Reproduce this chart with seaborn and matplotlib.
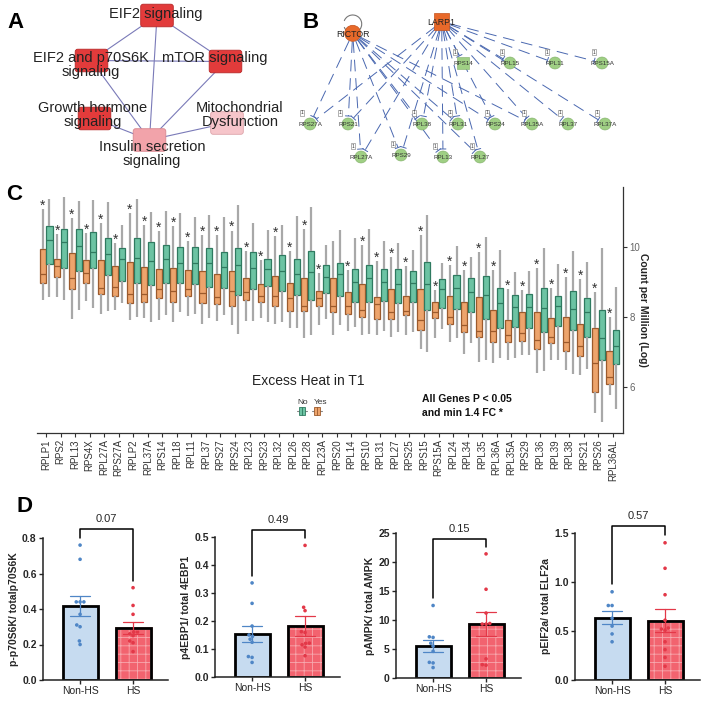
import numpy as np
import pandas as pd
import matplotlib
matplotlib.use("Agg")
import matplotlib.pyplot as plt
import seaborn as sns
from matplotlib.patches import FancyBboxPatch, Rectangle, Circle, Arc

# ===================== DATA =====================
# Panel A: canonical pathway network
pathways = ["EIF2 signaling", "EIF2 and p70S6K\nsignaling", "mTOR signaling",
            "Growth hormone\nsignaling", "Mitochondrial\nDysfunction",
            "Insulin secretion\nsignaling"]
pathway_level = ["high", "high", "high", "high", "low", "mid"]
pathway_links = [(0, 1), (0, 2), (0, 5), (1, 2), (1, 5), (2, 5), (3, 5), (4, 5)]

# Panel B: upstream regulators and ribosomal targets
regulators = ["RICTOR", "LARP1"]
targets = ["RPS14", "RPL15", "RPL11", "RPS15A",
           "RPS27A", "RPS21", "RPL38", "RPL31", "RPS24", "RPL35A", "RPL37", "RPL37A",
           "RPL27A", "RPS29", "RPL13", "RPL27"]
rictor_targets = ["RPS27A", "RPS21", "RPL38", "RPL31", "RPS24", "RPL35A",
                  "RPL27A", "RPS29", "RPL13", "RPL27"]

# Panel C: box statistics (log CPM) per gene, Yes = excess heat, No = none
genes = ["RPLP1", "RPS2", "RPL13", "RPS4X", "RPL27A", "RPS27A", "RPLP2", "RPL37A",
         "RPS14", "RPL18", "RPL11", "RPL37", "RPS27", "RPS24", "RPL23", "RPS23",
         "RPL32", "RPL26", "RPL28", "RPL23A", "RPS20", "RPL14", "RPS10", "RPL31",
         "RPL27", "RPS25", "RPS15", "RPS15A", "RPL24", "RPL34", "RPL35", "RPL36A",
         "RPL35A", "RPS29", "RPL36", "RPL39", "RPL38", "RPS21", "RPS26", "RPL36AL"]
yes_min = [8.49, 8.58, 7.93, 8.46, 8.10, 8.20, 7.91, 7.98, 7.91, 7.87, 8.04, 7.79, 7.89, 7.77,
           7.89, 7.98, 7.80, 7.70, 7.39, 7.77, 7.49, 7.60, 7.50, 7.49, 7.44, 7.49, 7.10, 7.39,
           7.30, 6.96, 6.72, 6.68, 6.79, 6.93, 6.42, 6.77, 6.49, 6.34, 5.28, 5.77]
yes_q1 = [8.98, 9.13, 8.79, 8.96, 8.65, 8.61, 8.39, 8.44, 8.53, 8.44, 8.61, 8.39, 8.37, 8.30,
          8.48, 8.42, 8.31, 8.17, 8.17, 8.31, 8.15, 8.10, 8.01, 7.93, 7.94, 8.06, 7.63, 7.96,
          7.80, 7.58, 7.42, 7.30, 7.28, 7.31, 7.09, 7.25, 7.04, 6.89, 5.87, 6.10]
yes_med = [9.22, 9.46, 9.10, 9.25, 8.82, 8.85, 8.66, 8.65, 8.80, 8.73, 8.79, 8.68, 8.58, 8.73,
           8.70, 8.61, 8.60, 8.55, 8.31, 8.55, 8.31, 8.31, 8.20, 8.36, 8.13, 8.18, 7.91, 8.13,
           8.01, 7.77, 7.61, 7.61, 7.49, 7.54, 7.34, 7.44, 7.28, 7.18, 6.70, 6.30]
yes_q3 = [9.94, 9.65, 9.82, 9.62, 9.62, 9.46, 9.56, 9.43, 9.36, 9.39, 9.33, 9.30, 9.22, 9.30,
          9.10, 8.93, 9.17, 8.96, 9.12, 8.74, 9.10, 8.72, 8.94, 8.57, 8.79, 8.61, 8.79, 8.44,
          8.61, 8.44, 8.57, 8.20, 7.91, 8.13, 8.15, 7.96, 7.99, 7.80, 7.70, 7.03]
yes_max = [11.06, 10.36, 10.82, 10.39, 10.68, 10.10, 10.96, 10.63, 10.44, 10.58, 10.17, 10.34,
           10.34, 10.46, 9.89, 9.63, 10.30, 9.89, 10.50, 9.25, 10.15, 9.34, 10.06, 9.60, 9.72,
           9.44, 10.34, 8.77, 9.49, 9.34, 9.85, 9.34, 8.79, 8.77, 9.39, 8.82, 9.15, 9.09, 8.72, 8.01]
no_min = [8.58, 8.48, 8.20, 8.27, 8.18, 8.41, 8.01, 7.87, 8.06, 8.15, 8.10, 7.96, 8.06, 7.53,
          7.89, 7.87, 7.87, 7.68, 7.50, 7.93, 7.77, 7.72, 7.53, 7.60, 7.58, 7.58, 7.01, 7.65,
          7.39, 7.25, 6.77, 6.84, 6.84, 6.93, 6.46, 6.79, 6.39, 6.53, 5.01, 5.39]
no_q1 = [9.50, 9.39, 9.30, 9.39, 9.19, 9.03, 8.96, 8.91, 8.96, 8.98, 8.93, 8.85, 8.82, 8.63,
         8.80, 8.87, 8.74, 8.63, 8.49, 8.68, 8.61, 8.44, 8.44, 8.47, 8.41, 8.42, 8.20, 8.25,
         8.22, 8.15, 7.93, 7.70, 7.72, 7.70, 7.58, 7.74, 7.63, 7.42, 6.77, 6.65]
no_med = [10.20, 10.13, 10.01, 9.85, 9.80, 9.65, 9.68, 9.60, 9.65, 9.53, 9.53, 9.53, 9.41, 9.49,
          9.39, 9.36, 9.31, 9.23, 9.28, 9.13, 9.23, 8.99, 9.12, 8.99, 8.94, 8.96, 8.94, 8.79,
          8.82, 8.70, 8.63, 8.39, 8.28, 8.28, 8.25, 8.30, 8.22, 8.13, 7.39, 7.17]
no_q3 = [10.58, 10.50, 10.50, 10.42, 10.25, 9.96, 10.25, 10.13, 10.04, 9.99, 9.99, 9.96, 9.85,
         9.96, 9.84, 9.66, 9.76, 9.65, 9.87, 9.47, 9.53, 9.37, 9.49, 9.37, 9.36, 9.30, 9.58, 9.09,
         9.20, 9.12, 9.17, 8.84, 8.63, 8.66, 8.84, 8.60, 8.74, 8.53, 8.20, 7.63]
no_max = [11.37, 11.41, 11.31, 11.32, 11.27, 10.61, 11.37, 10.98, 11.01, 10.96, 10.84, 10.90,
          10.84, 11.18, 10.68, 10.49, 10.63, 10.87, 11.13, 10.06, 10.49, 10.25, 10.50, 10.15,
          10.10, 9.91, 10.91, 9.53, 10.01, 9.72, 10.27, 9.91, 9.28, 9.30, 9.96, 9.50, 9.89, 9.56,
          9.96, 8.85]
significant = [g != "RPS20" for g in genes]
yticks_c = [6, 8, 10]

# Panel D: western blot ratios
d_groups = ["Non-HS", "HS"]
d_ylabels = ["p-p70S6K/ totalp70S6K", "p4EBP1/ total 4EBP1", "pAMPK/ total AMPK",
             "pEIF2a/ total ELF2a"]
d_pvalues = ["0.07", "0.49", "0.15", "0.57"]
p70_non = [0.76, 0.68, 0.44, 0.44, 0.44, 0.37, 0.30, 0.31, 0.22, 0.20]
p70_hs = [0.52, 0.42, 0.37, 0.27, 0.27, 0.26, 0.25, 0.22, 0.21, 0.16]
ebp_non = [0.336, 0.263, 0.182, 0.150, 0.145, 0.135, 0.124, 0.073, 0.070, 0.052]
ebp_hs = [0.470, 0.249, 0.237, 0.162, 0.159, 0.121, 0.120, 0.115, 0.107, 0.076]
ampk_non = [12.5, 7.1, 7.0, 6.0, 5.5, 4.6, 2.7, 2.6, 1.8]
ampk_hs = [21.4, 15.3, 11.2, 9.4, 9.3, 9.3, 3.3, 2.2, 2.3]
eif_non = [0.90, 0.76, 0.76, 0.63, 0.55, 0.47, 0.39]
eif_hs = [1.40, 1.14, 0.87, 0.61, 0.53, 0.52, 0.51, 0.39, 0.31, 0.23, 0.14]
d_yticks = [[0.0, 0.2, 0.4, 0.6, 0.8], [0.0, 0.1, 0.2, 0.3, 0.4, 0.5],
            [0, 5, 10, 15, 20, 25], [0.0, 0.5, 1.0, 1.5]]

# ===================== LAYOUT / STYLE =====================
sns.set_theme(style="white")
plt.rcParams['font.family'] = ['Liberation Sans', 'DejaVu Sans']
plt.rcParams['hatch.linewidth'] = 0.6

W, H = 709, 701
fig = plt.figure(figsize=(W / 100, H / 100), dpi=100)


def rect(l, t, r, b):
    return [l / W, 1 - b / H, (r - l) / W, (b - t) / H]


GREEN, GREEN_EDGE = "#6cc3a3", "#2f7a60"
ORANGE, ORANGE_EDGE = "#eda46c", "#9c5a2c"

# ---------------- Panel C ----------------
axc = fig.add_axes(rect(37, 187, 623, 433))
axc.patch.set_alpha(0)
rows = []
for i, g in enumerate(genes):
    for v in (yes_min[i], yes_q1[i], yes_med[i], yes_q3[i], yes_max[i]):
        rows.append((g, "Yes", v))
    for v in (no_min[i], no_q1[i], no_med[i], no_q3[i], no_max[i]):
        rows.append((g, "No", v))
dfc = pd.DataFrame(rows, columns=["gene", "heat", "cpm"])
sns.boxplot(data=dfc, x="gene", y="cpm", hue="heat", hue_order=["Yes", "No"], order=genes,
            palette={"Yes": ORANGE, "No": GREEN}, saturation=1,
            width=0.95, gap=0.12, whis=(0, 100), showcaps=False,
            linecolor="#444444", linewidth=0.9, legend=False, ax=axc,
            whiskerprops=dict(color="#a8a8a8", linewidth=1.6))
# darker outlines matching each fill
for p in axc.patches:
    fc = matplotlib.colors.to_hex(p.get_facecolor())
    p.set_edgecolor(ORANGE_EDGE if fc == ORANGE else GREEN_EDGE)
for ln in axc.lines:
    xd, yd = np.asarray(ln.get_xdata(), float), np.asarray(ln.get_ydata(), float)
    if len(yd) == 2 and yd[0] == yd[1] and xd[0] != xd[1]:
        xm = xd.mean()
        ln.set_color(ORANGE_EDGE if xm - round(xm) < 0 else GREEN_EDGE)
for i, g in enumerate(genes):
    if significant[i]:
        axc.text(i - 0.2375, yes_max[i] - 0.02, "*", ha="center", va="baseline",
                 fontsize=10, color="#333333")
axc.set_xlim(-0.62, 39.69)
axc.set_ylim(4.7, 11.7)
axc.yaxis.tick_right()
axc.yaxis.set_label_position("right")
axc.set_yticks(yticks_c)
axc.set_ylabel("Count per Million (Log)", rotation=-90, fontsize=7.5,
               fontweight="bold", labelpad=6, color="#222222")
axc.set_xlabel("")
for s in ("top", "left"):
    axc.spines[s].set_visible(False)
for s in ("bottom", "right"):
    axc.spines[s].set_color("#333333")
    axc.spines[s].set_linewidth(0.9)
axc.tick_params(axis="x", rotation=90, labelsize=7, colors="#333333", length=3,
                width=0.8, direction="out", pad=1.5, bottom=True)
axc.tick_params(axis="y", labelsize=7, labelcolor="#666666", color="#333333",
                length=3, width=0.8, direction="out", right=True, left=False, pad=1.5)

# ---------------- Panel D ----------------
d_data = [(p70_non, p70_hs), (ebp_non, ebp_hs), (ampk_non, ampk_hs), (eif_non, eif_hs)]
d_boxes = [(43, 538, 168, 680), (215, 537, 340, 677), (396, 533, 521, 678), (575, 533, 700, 680)]
BAR_FILL = {"Non-HS": "#c6dbf0", "HS": "#f2636f"}
PT_COL = {"Non-HS": "#4f86c6", "HS": "#e33848"}
for k, ((non, hs), box) in enumerate(zip(d_data, d_boxes)):
    ax = fig.add_axes(rect(*box))
    ax.patch.set_alpha(0)
    df = pd.DataFrame({"group": ["Non-HS"] * len(non) + ["HS"] * len(hs),
                       "value": non + hs})
    for grp in d_groups:
        sub = df[df.group == grp]
        sns.barplot(data=sub, x="group", y="value", order=d_groups, color=BAR_FILL[grp],
                    saturation=1, errorbar="se", capsize=0.38, width=0.66,
                    err_kws={"color": PT_COL[grp], "linewidth": 0.9},
                    edgecolor="black", linewidth=2, ax=ax, zorder=1)
    for p in list(ax.patches):
        fc = matplotlib.colors.to_hex(p.get_facecolor())
        if fc == BAR_FILL["HS"]:
            p.set_hatch("++")
            p.set_edgecolor("#f7a8ae")
            ax.add_patch(Rectangle(p.get_xy(), p.get_width(), p.get_height(),
                                   fill=False, edgecolor="black", linewidth=2, zorder=1.5))
    sns.swarmplot(data=df, x="group", y="value", order=d_groups, hue="group",
                  palette=PT_COL, size=2.6, legend=False, ax=ax, zorder=3)
    yt = d_yticks[k]
    ymax = yt[-1]
    ax.set_ylim(0, ymax)
    ax.set_xlim(-0.7, 1.66)
    ax.set_yticks(yt)
    if ymax >= 5:
        ax.set_yticklabels([f"{t:g}" for t in yt])
    else:
        ax.set_yticklabels([f"{t:.1f}" for t in yt])
    for lab in ax.get_yticklabels():
        lab.set_fontweight("bold")
    ax.set_xlabel("")
    ax.set_ylabel(d_ylabels[k], fontsize=7.5, fontweight="bold", labelpad=2)
    for s in ("top", "right"):
        ax.spines[s].set_visible(False)
    for s in ("left", "bottom"):
        ax.spines[s].set_color("#222222")
        ax.spines[s].set_linewidth(1.1)
    ax.tick_params(axis="y", labelsize=7.5, length=3, width=1, direction="out",
                   left=True, pad=1.5)
    ax.tick_params(axis="x", labelsize=7.5, length=3, width=1, direction="out",
                   bottom=True, pad=1.5)
    top = max(max(non), max(hs)) * 1.12
    ax.plot([0, 0, 1, 1], [max(non) + 0.05 * ymax, top, top, max(hs) + 0.05 * ymax],
            color="black", lw=1.1, clip_on=False)
    ax.text(0.5, top + 0.035 * ymax, d_pvalues[k], ha="center", va="bottom", fontsize=8)

# ---------------- overlay: networks, legend, panel letters ----------------
ov = fig.add_axes([0, 0, 1, 1])
ov.set_xlim(0, W)
ov.set_ylim(H, 0)
ov.axis("off")

# Panel A
box_centers = [(157, 15.5), (91.5, 60.5), (225.5, 61.5), (94.5, 118.5), (227, 123), (149.5, 140)]
label_centers = [(156, 14), (91, 65), (215, 58), (93, 115), (240, 115), (152, 154)]
level_col = {"high": ("#e23b3b", "#b82828"), "mid": ("#f2a3aa", "#d88890"),
             "low": ("#f6c5ca", "#dda4aa")}
for a, b in pathway_links:
    (x1, y1), (x2, y2) = box_centers[a], box_centers[b]
    ov.plot([x1, x2], [y1, y2], color="#7a7ab8", lw=0.8, zorder=1)
for (cx, cy), lvl in zip(box_centers, pathway_level):
    fc, ec = level_col[lvl]
    ov.add_patch(FancyBboxPatch((cx - 15.5, cy - 10.5), 31, 21,
                                boxstyle="round,pad=0.8,rounding_size=2.5",
                                facecolor=fc, edgecolor=ec, lw=0.6, zorder=2))
for (lx, ly), name in zip(label_centers, pathways):
    ov.text(lx, ly, name, ha="center", va="center", fontsize=10.5, color="#222222",
            linespacing=0.95, zorder=3)

# Panel B
reg_pos = {"RICTOR": (352.7, 33.3), "LARP1": (441.7, 21.7)}
tgt_pos = {"RPS14": (463, 63), "RPL15": (510, 63), "RPL11": (555, 63), "RPS15A": (602, 63),
           "RPS27A": (310, 124), "RPS21": (348, 124), "RPL38": (422, 124),
           "RPL31": (458, 124), "RPS24": (495, 124), "RPL35A": (532, 124),
           "RPL37": (568, 124), "RPL37A": (605, 124),
           "RPL27A": (361, 157), "RPS29": (401, 155), "RPL13": (443, 157), "RPL27": (480, 157)}
edge_col = "#4a68b0"
for reg in regulators:
    rx, ry = reg_pos[reg]
    tl = targets if reg == "LARP1" else rictor_targets
    for t in tl:
        tx, ty = tgt_pos[t]
        d = np.hypot(tx - rx, ty - ry)
        ux, uy = (tx - rx) / d, (ty - ry) / d
        sx, sy = rx + ux * 8, ry + uy * 8
        ex, ey = tx - ux * 8, ty - uy * 8
        ov.plot([sx, ex], [sy, ey], color=edge_col, lw=0.7, ls=(0, (12, 7)), zorder=1)
        px, py = -uy * 3, ux * 3
        ov.plot([ex - px, ex + px], [ey - py, ey + py], color=edge_col, lw=0.7, zorder=1)
ov.add_patch(Arc((352.7, 24), 18, 18, theta1=200, theta2=520, color="#777777", lw=0.8))
ov.add_patch(Circle(reg_pos["RICTOR"], 8, facecolor="#e8692a", edgecolor="#c4521c",
                    lw=0.5, zorder=2))
lx, ly = reg_pos["LARP1"]
ov.add_patch(Rectangle((lx - 7.5, ly - 8.5), 15, 17, facecolor="#e8692a",
                       edgecolor="#c4521c", lw=0.5, zorder=2))
for reg in regulators:
    x, y = reg_pos[reg]
    ov.text(x, y + 1, reg, ha="center", va="center", fontsize=6.3, color="#222222", zorder=3)
for t in targets:
    x, y = tgt_pos[t]
    if t == "RPS14":
        ov.add_patch(Rectangle((x - 6, y - 6), 12, 12, facecolor="#9fcf84",
                               edgecolor="#7fae66", lw=0.4, zorder=2))
    else:
        ov.add_patch(Circle((x, y), 6, facecolor="#9fcf84", edgecolor="#7fae66",
                            lw=0.4, zorder=2))
    ov.text(x, y + 0.5, t, ha="center", va="center", fontsize=4.5, color="#333333", zorder=3)
    ov.add_patch(Rectangle((x - 10, y - 14), 4, 6, facecolor="white",
                           edgecolor="#777777", lw=0.4, zorder=2))
    ov.text(x - 8, y - 11, "1", ha="center", va="center", fontsize=3.5, color="#333333",
            zorder=3)

# Panel C legend + note
ov.text(308, 381, "Excess Heat in T1", ha="center", va="center", fontsize=10,
        color="#222222")
ov.text(303, 402, "No", ha="center", va="center", fontsize=6, color="#333333")
ov.text(320.5, 402, "Yes", ha="center", va="center", fontsize=6, color="#333333")
for cx, fc, ec in ((302, GREEN, GREEN_EDGE), (317, ORANGE, ORANGE_EDGE)):
    ov.plot([cx - 5, cx + 5], [411, 411], color="#888888", lw=0.8)
    ov.add_patch(Rectangle((cx - 3, 407), 6, 8, facecolor=fc, edgecolor=ec, lw=0.6,
                           zorder=3))
    ov.plot([cx, cx], [407, 415], color=ec, lw=0.6, zorder=4)
ov.text(422, 399, "All Genes P < 0.05", ha="left", va="center", fontsize=7.5,
        fontweight="bold", color="#111111")
ov.text(422, 413, "and min 1.4 FC *", ha="left", va="center", fontsize=7.5,
        fontweight="bold", color="#111111")

# panel letters
for letter, (x, y) in zip("ABCD", [(16, 23), (311, 23), (14, 195), (24, 506)]):
    ov.text(x, y, letter, ha="center", va="center", fontsize=16, fontweight="bold",
            color="black")

fig.savefig("out.png", dpi=100)
